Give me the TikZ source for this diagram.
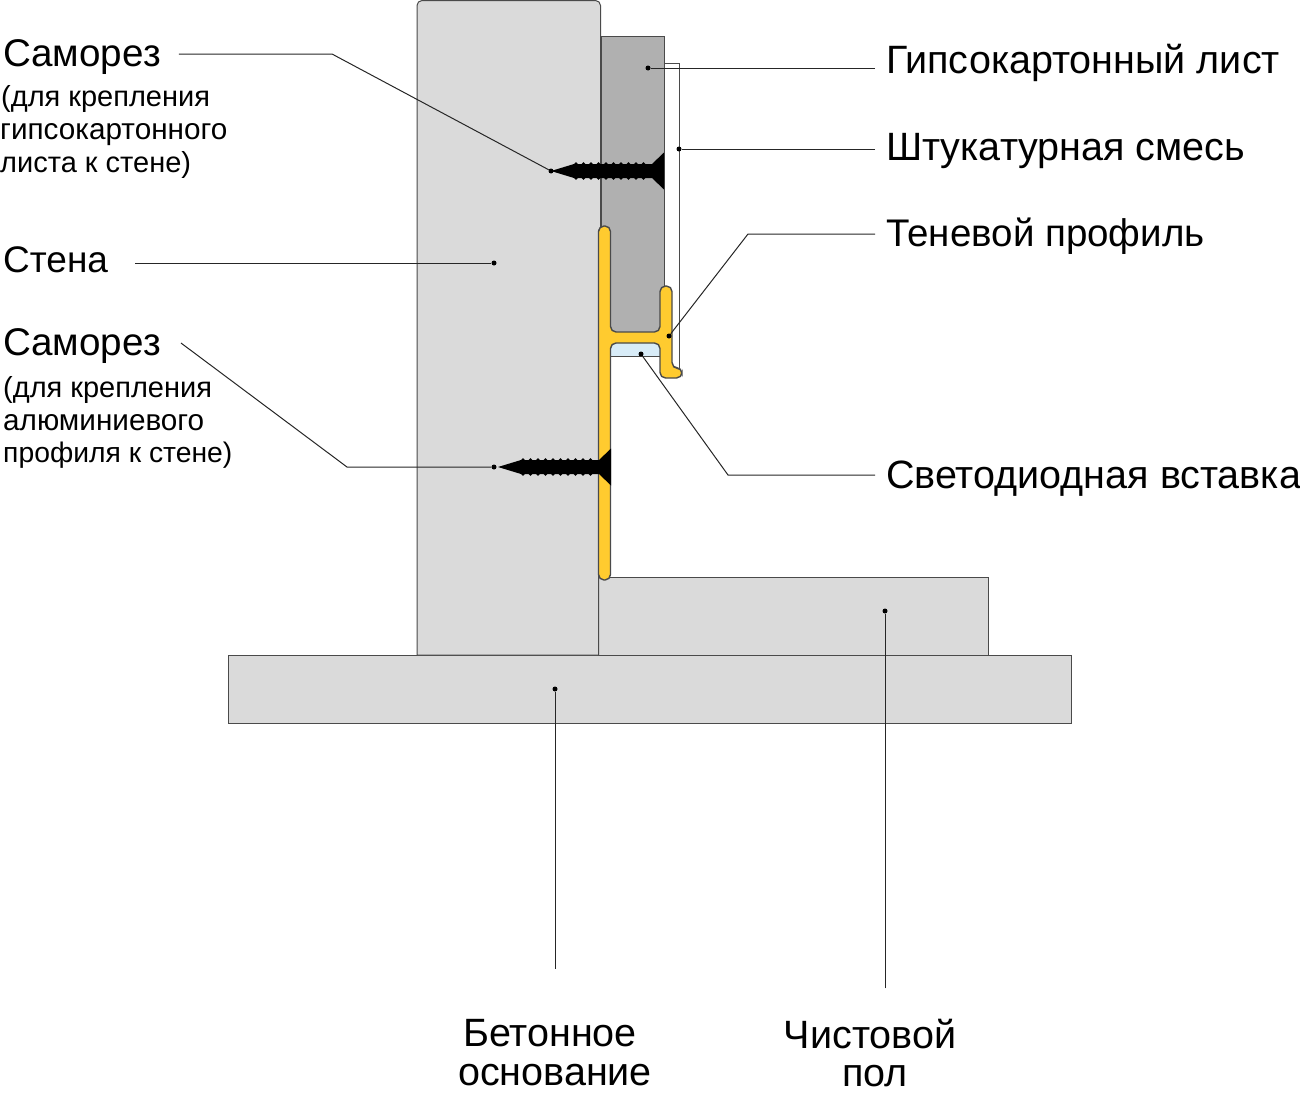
\documentclass[tikz,border=0pt]{standalone}
\usepackage{fontspec}
\setmainfont{Liberation Sans}
\definecolor{wallgray}{HTML}{DADADA}
\definecolor{boardgray}{HTML}{B0B0B0}
\definecolor{profyellow}{HTML}{FFCB2F}
\definecolor{ledblue}{HTML}{D8ECF8}
\definecolor{edgegray}{HTML}{4A4A4A}
\tikzset{
  part/.style={draw=edgegray, line width=1pt},
  leader/.style={draw=black!85, line width=1pt},
  dot/.style={circle, fill=black, inner sep=0pt, minimum size=5pt},
  biglabel/.style={anchor=base west, inner sep=0pt, text height=26pt, text depth=2pt, font=\fontsize{39.5}{39.5}\selectfont},
  smalllabel/.style={anchor=base west, inner sep=0pt, font=\fontsize{29}{29}\selectfont},
  botlabel/.style={anchor=base, inner sep=0pt, font=\fontsize{39.5}{39.5}\selectfont},
  pics/screw/.style={code={
    \fill (-113,0) -- (-90,-7) -- (-12,-7) -- (0,-18.5) -- (0,18.5) -- (-12,7) -- (-90,7) -- cycle;
    \foreach \x in {-88,-80.5,...,-14} {
      \fill (\x,-7) circle (1.9);
      \fill (\x,7) circle (1.9);
    }
  }}
}
\begin{document}
\begin{tikzpicture}[x=1pt, y=-1pt]
\useasboundingbox (0,0) rectangle (1300,1092);

% parts
\path [part, fill=wallgray] (228,655) rectangle (1071,723);
\path [part, fill=wallgray] (598,577) rectangle (988,655);
\path [part, fill=wallgray] (417,655) [rounded corners=5] -- (417,0.5) -- (600.5,0.5) [sharp corners] -- (600.5,230) -- (598.5,230) -- (598.5,655) -- cycle;
\path [part, fill=boardgray] (601,36) rectangle (664,335);
\path [fill=ledblue] (611,343) rectangle (660,356);
\path [part] (611,356.5) -- (660,356.5);
\path [part] (664,63.5) -- (679,63.5) -- (679,369);
\path [part, line width=1.4pt, fill=profyellow, rounded corners=5.5] (598.5,226) -- (610.5,226) -- (610.5,332) -- (660,332) -- (660,286) -- (672,286) -- (672,368) -- (682,368) -- (682,378) -- (660,378) -- (660,343) -- (610.5,343) -- (610.5,580) -- (598.5,580) -- cycle;

% screws
\pic at (664,171) {screw};
\pic at (611,467) {screw};

% dots
\node [dot] (dotscrewa) at (551,171) {};
\node [dot] (dotwall) at (494,263) {};
\node [dot] (dotscrewb) at (494,467) {};
\node [dot] (dotboard) at (648,68) {};
\node [dot] (dotplaster) at (679,149) {};
\node [dot] (dotprofile) at (669,336) {};
\node [dot] (dotled) at (641,354) {};
\node [dot] (dotbase) at (555,689) {};
\node [dot] (dotfloor) at (885,611) {};

% labels
\node [biglabel, font=\fontsize{38.6}{38.6}\selectfont] (screwa) at (3,66) {Саморез};
\node [smalllabel] (screwatexta) at (1,106) {(для крепления};
\node [smalllabel, font=\fontsize{29.7}{29.7}\selectfont] (screwatextb) at (0,139) {гипсокартонного};
\node [smalllabel] (screwatextc) at (0,172) {листа к стене)};
\node [biglabel, font=\fontsize{37}{37}\selectfont] (wall) at (3,272) {Стена};
\node [biglabel, font=\fontsize{38.6}{38.6}\selectfont] (screwb) at (3,355) {Саморез};
\node [smalllabel] (screwbtexta) at (3,397) {(для крепления};
\node [smalllabel, font=\fontsize{29.7}{29.7}\selectfont] (screwbtextb) at (3,430) {алюминиевого};
\node [smalllabel, font=\fontsize{28.3}{28.3}\selectfont] (screwbtextc) at (3,462) {профиля к стене)};
\node [biglabel] (board) at (886,73) {Гипсокартонный лист};
\node [biglabel] (plaster) at (886,160) {Штукатурная смесь};
\node [biglabel, font=\fontsize{38.5}{38.5}\selectfont] (profile) at (886,246) {Теневой профиль};
\node [biglabel] (led) at (886,488) {Светодиодная вставка};
\node [botlabel] (basea) at (550,1046) {Бетонное};
\node [botlabel] (baseb) at (555,1085) {основание};
\node [botlabel] (floora) at (870,1048) {Чистовой};
\node [botlabel] (floorb) at (875,1086) {пол};

% bends
\coordinate (bendscrewa) at (332,54);
\coordinate (bendscrewb) at (347,467);
\coordinate (bendprofile) at (748,234);
\coordinate (bendled) at (728,475);

% leaders
\path [leader, shorten <=18] (screwa.east) -- (bendscrewa) -- (dotscrewa);
\path [leader, shorten <=27] ([yshift=-3pt]wall.east) -- (dotwall);
\path [leader] ([xshift=20pt]screwb.east) -- (bendscrewb) -- (dotscrewb);
\path [leader, shorten <=11] ([yshift=-7pt]board.west) -- (dotboard);
\path [leader, shorten <=11] ([yshift=-1pt]plaster.west) -- (dotplaster);
\path [leader, shorten <=11] (profile.west) -- (bendprofile) -- (dotprofile);
\path [leader, shorten <=11] ([yshift=1pt]led.west) -- (bendled) -- (dotled);
\path [leader, shorten <=50] (dotbase |- basea.north) -- (dotbase);
\path [leader, shorten <=30] (dotfloor |- floora.north) -- (dotfloor);
\end{tikzpicture}
\end{document}
